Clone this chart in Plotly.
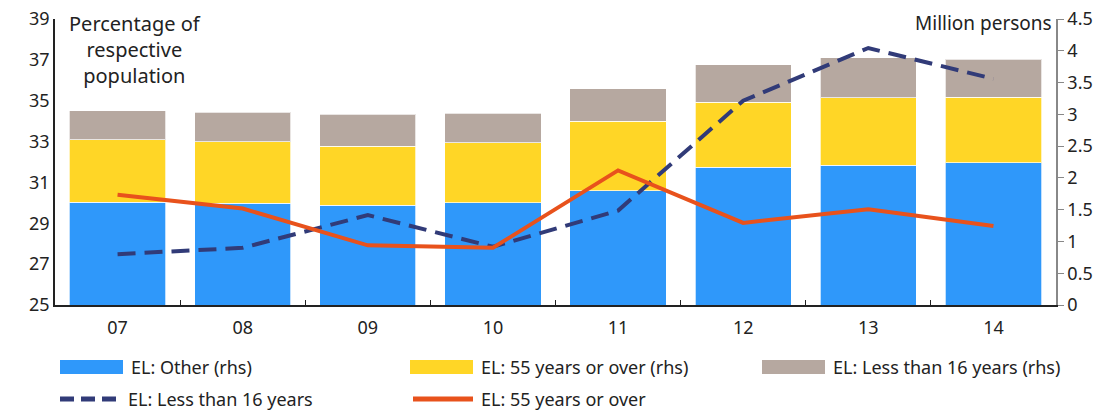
import plotly.graph_objects as go

years = ["07", "08", "09", "10", "11", "12", "13", "14"]

# stacked bars, million persons (right axis)
el_other = [1.62, 1.60, 1.57, 1.61, 1.80, 2.17, 2.20, 2.24]
el_55_over = [0.98, 0.97, 0.93, 0.94, 1.09, 1.02, 1.06, 1.03]
el_less16 = [0.46, 0.46, 0.50, 0.47, 0.51, 0.59, 0.63, 0.60]

# lines, percentage of respective population (left axis)
pct_less16 = [27.49, 27.80, 29.40, 27.85, 29.62, 35.00, 37.58, 36.07]
pct_55_over = [30.40, 29.72, 27.92, 27.80, 31.59, 29.02, 29.69, 28.87]

FONT = "Noto Sans"
C_OTHER, C_55, C_16 = "#2F98FA", "#FFD626", "#B6A8A0"
C_L16, C_L55 = "#313B78", "#E8521C"
DASH = "18px,9px"
bar_line = dict(color="rgba(255,255,255,0.7)", width=1)

fig = go.Figure()
fig.add_trace(go.Bar(x=years, y=el_other, name="EL: Other (rhs)",
                     marker=dict(color=C_OTHER, line=bar_line), yaxis="y"))
fig.add_trace(go.Bar(x=years, y=el_55_over, name="EL: 55 years or over (rhs)",
                     marker=dict(color=C_55, line=bar_line), yaxis="y"))
fig.add_trace(go.Bar(x=years, y=el_less16, name="EL: Less than 16 years (rhs)",
                     marker=dict(color=C_16, line=bar_line), yaxis="y"))
fig.add_trace(go.Scatter(x=years, y=pct_less16, name="EL: Less than 16 years",
                         mode="lines", line=dict(color=C_L16, width=4, dash=DASH),
                         yaxis="y2"))
fig.add_trace(go.Scatter(x=years, y=pct_55_over, name="EL: 55 years or over",
                         mode="lines", line=dict(color=C_L55, width=4),
                         yaxis="y2"))

# hand-made legend below the plot (plot area spans 55..1056 px, 19..305 px)
W, H, L, B = 1001, 286, 55, 305
def px(x):
    return (x - L) / W
def py(y):
    return (B - y) / H

shapes = []
annotations = []
legend_items = [
    ("bar", C_OTHER, "EL: Other (rhs)", 60, 367),
    ("bar", C_55, "EL: 55 years or over (rhs)", 410, 367),
    ("bar", C_16, "EL: Less than 16 years (rhs)", 762, 367),
    ("dash", C_L16, "EL: Less than 16 years", 57, 399),
    ("line", C_L55, "EL: 55 years or over", 410, 399),
]
for kind, color, label, x0, yc in legend_items:
    if kind == "bar":
        shapes.append(dict(type="rect", xref="paper", yref="paper",
                           x0=px(x0), x1=px(x0 + 63), y0=py(yc + 7), y1=py(yc - 7),
                           fillcolor=color, line=dict(width=0)))
    else:
        shapes.append(dict(type="line", xref="paper", yref="paper",
                           x0=px(x0 + 3), x1=px(x0 + 63), y0=py(yc), y1=py(yc),
                           line=dict(color=color, width=5,
                                     dash="14px,7px" if kind == "dash" else "solid")))
    annotations.append(dict(text=label, xref="paper", yref="paper",
                            x=px(x0 + 69), y=py(yc), xanchor="left", yanchor="middle",
                            showarrow=False, font=dict(size=18)))

annotations += [
    dict(text="Percentage of<br>respective<br>population", xref="paper", yref="paper",
         x=0.08, y=1.04, xanchor="center", yanchor="top", showarrow=False,
         font=dict(size=20)),
    dict(text="Million persons", xref="paper", yref="paper",
         x=0.998, y=1.04, xanchor="right", yanchor="top", showarrow=False,
         font=dict(size=19)),
]

fig.update_layout(
    width=1105, height=414,
    margin=dict(l=55, r=49, t=19, b=109, autoexpand=False),
    paper_bgcolor="white", plot_bgcolor="white",
    font=dict(family=FONT, size=17, color="#222"),
    barmode="stack", bargap=0.23,
    showlegend=False,
    xaxis=dict(type="category", showline=True, linecolor="#222", linewidth=1.5,
               ticks="inside", tickson="boundaries", ticklen=5, tickcolor="#222",
               showgrid=False, tickfont=dict(size=18), ticklabelstandoff=6),
    yaxis=dict(side="right", range=[0, 4.5], dtick=0.5, tick0=0, showgrid=False,
               showline=True, linecolor="#888", linewidth=1.5,
               ticks="outside", ticklen=6, tickcolor="#888", zeroline=False,
               tickfont=dict(size=18)),
    yaxis2=dict(side="left", overlaying="y", range=[25, 39], dtick=2, tick0=25,
                showgrid=False, showline=True, linecolor="#222", linewidth=1.5,
                zeroline=False, tickfont=dict(size=18)),
    shapes=shapes,
    annotations=annotations,
)

# drop the default page margin so the figure sits at the window's top-left corner
fig.write_html("out.html", config={"displayModeBar": False},
               post_script="document.body.style.margin='0';")
